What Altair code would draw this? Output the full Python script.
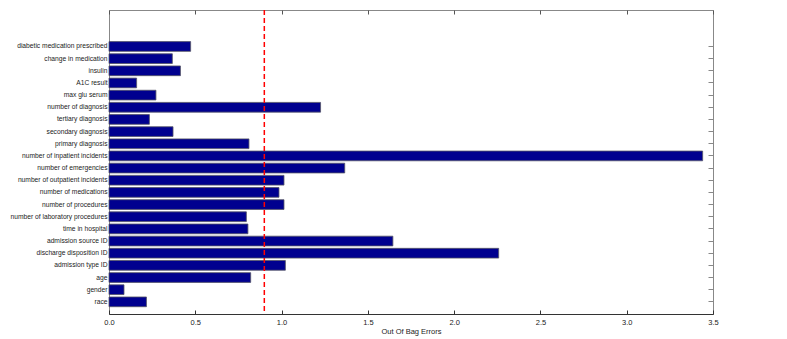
import altair as alt
import pandas as pd

categories = [
    "diabetic medication prescribed", "change in medication", "insulin", "A1C result",
    "max glu serum", "number of diagnosis", "tertiary diagnosis", "secondary diagnosis",
    "primary diagnosis", "number of inpatient incidents", "number of emergencies",
    "number of outpatient incidents", "number of medications", "number of procedures",
    "number of laboratory procedures", "time in hospital", "admission source ID",
    "discharge disposition ID", "admission type ID", "age", "gender", "race",
]
oob_errors = [
    0.473, 0.367, 0.414, 0.160, 0.272, 1.226, 0.234, 0.371, 0.811, 3.44, 1.366,
    1.014, 0.985, 1.014, 0.796, 0.805, 1.645, 2.258, 1.022, 0.821, 0.087, 0.217,
]
threshold = [0.9]
x_ticks = [0, 0.5, 1, 1.5, 2, 2.5, 3, 3.5]

df = pd.DataFrame({"name": categories, "value": oob_errors})

FONT = "Liberation Sans"
W, H = 604, 304
STEP = H / 25.0
xscale = alt.Scale(domain=[0, 3.5], nice=False, zero=True)
yscale = alt.Scale(paddingInner=0.2, paddingOuter=0, align=0.5,
                   range=[2.6 * STEP, H - 0.6 * STEP])

bars = alt.Chart(df).mark_bar(color="#00008f", stroke="#555566", strokeWidth=0.8).encode(
    x=alt.X("value:Q", scale=xscale,
            axis=alt.Axis(orient="bottom", values=x_ticks, ticks=False, domain=True,
                          domainColor="#333333", labelPadding=4, title="Out Of Bag Errors",
                          titlePadding=2, labelFlush=False, grid=False)),
    y=alt.Y("name:N", sort=categories, scale=yscale,
            axis=alt.Axis(orient="left", ticks=False, domain=False, labelLimit=300,
                          labelPadding=2, title=None, grid=False, labelFontSize=6.7)),
)

tick_layer = alt.Chart(df).mark_bar(opacity=0).encode(
    x=alt.X("value:Q", scale=xscale,
            axis=alt.Axis(orient="top", values=x_ticks, labels=False, domain=False,
                          tickSize=4, offset=-4, tickColor="#555555", title=None, grid=False)),
    y=alt.Y("name:N", sort=categories, scale=yscale,
            axis=alt.Axis(orient="right", labels=False, domain=False, tickSize=5,
                          offset=-5, tickColor="#888888", title=None, grid=False)),
)

rule = alt.Chart(pd.DataFrame({"t": threshold})).mark_rule(
    color="#ff0000", strokeDash=[5, 3], strokeWidth=1.5
).encode(
    x=alt.X("t:Q", scale=xscale,
            axis=alt.Axis(orient="bottom", values=x_ticks, labels=False, domain=False,
                          tickSize=4, offset=-4, tickColor="#333333", title=None, grid=False)),
)

chart = alt.layer(bars, tick_layer, rule).resolve_axis(
    x="independent", y="independent"
).properties(
    width=W, height=H,
    autosize=alt.AutoSizeParams(type="none"),
    padding={"left": 101, "top": 2, "right": 66, "bottom": 28},
).configure_view(
    stroke="#888888", strokeWidth=1
).configure_axis(
    labelFont=FONT, titleFont=FONT, labelFontSize=7.5, titleFontSize=7.5,
    labelColor="#222222", titleColor="#222222", titleFontWeight="normal",
)

chart.save("out.html", embed_options={"renderer": "svg", "actions": False})
